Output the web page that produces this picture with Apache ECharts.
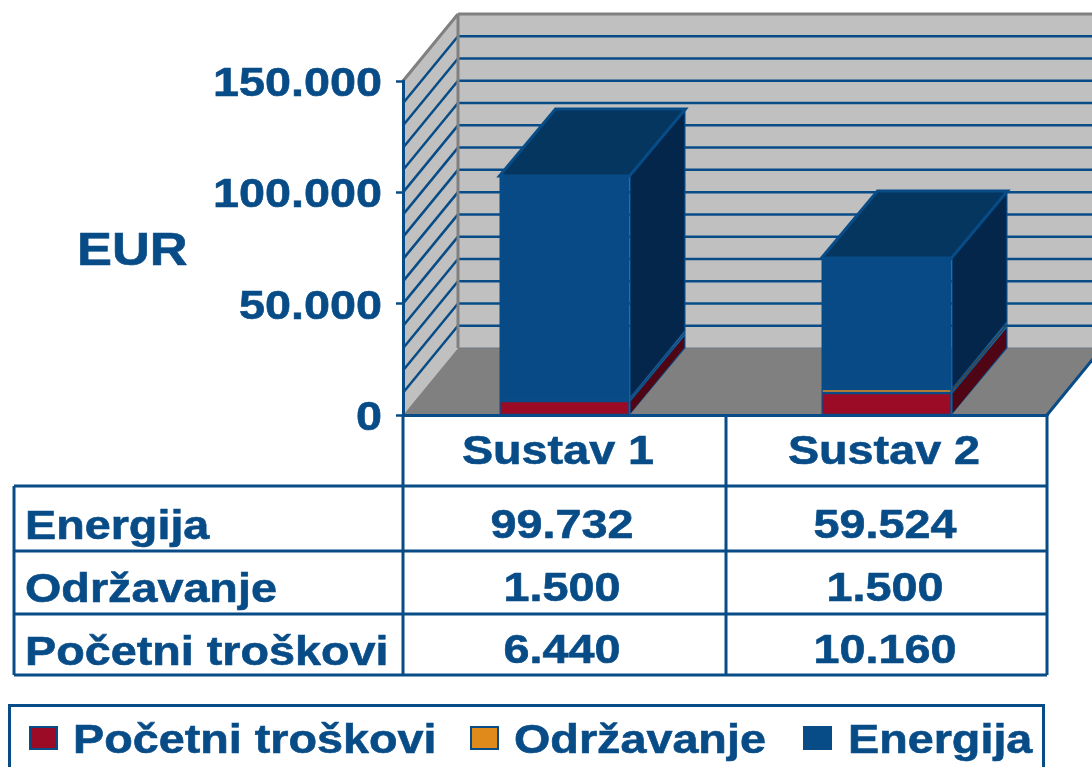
<!DOCTYPE html>
<html>
<head>
<meta charset="utf-8">
<style>html,body{margin:0;padding:0;background:#fff;overflow:hidden}#c{width:1092px;height:767px}</style>
<script src="https://cdn.jsdelivr.net/npm/echarts@6/dist/echarts.min.js"></script>
</head>
<body>
<div id="c"></div>
<script>
const categories = ['Sustav 1', 'Sustav 2'];
const energija = [99732, 59524];
const odrzavanje = [1500, 1500];
const pocetni = [6440, 10160];
const tickValues = [0, 50000, 100000, 150000];
const minorValues = [10000,20000,30000,40000,50000,60000,70000,80000,90000,100000,110000,120000,130000,140000];
const axisTitle = 'EUR';
const nameEnergija = 'Energija', nameOdrz = 'Održavanje', namePoc = 'Početni troškovi';

const NAVY = '#084c87', FONT = '"Liberation Sans", Arial, sans-serif';
const DX = 55, DY = -67, BAR_W = 130, STRETCH = 1.168;
const fmt = v => String(v).replace(/\B(?=(\d{3})+(?!\d))/g, '.');

function txt(text, x, y, size, align, stretch) {
  return { type: 'text', x: x, y: y + size * 0.1, scaleX: stretch || STRETCH, silent: true, z: 20,
    style: { text: text, x: 0, y: 0, align: align || 'center', verticalAlign: 'middle',
      fill: NAVY, stroke: NAVY, lineWidth: 0.6, font: 'bold ' + size + 'px ' + FONT } };
}
function poly(points, fill, stroke, lw) {
  return { type: 'polygon', shape: { points: points },
    style: { fill: fill, stroke: stroke || null, lineWidth: lw || 0, lineJoin: 'miter' } };
}
function seg(x1, y1, x2, y2, color, lw) {
  return { type: 'line', shape: { x1, y1, x2, y2 }, style: { stroke: color, lineWidth: lw, fill: null } };
}

function renderWalls(params, api) {
  const g = params.coordSys, L = g.x, R = g.x + g.width, T = g.y, B = g.y + g.height;
  return { type: 'group', children: [
    poly([[L, T], [L + DX, T + DY], [L + DX, B + DY], [L, B]], '#c0c0c0'),
    poly([[L + DX, T + DY], [R + DX, T + DY], [R + DX, B + DY], [L + DX, B + DY]], '#c0c0c0')
  ] };
}
function renderGrid(params, api) {
  const g = params.coordSys, L = g.x, R = g.x + g.width;
  const y = api.coord([0, api.value(0)])[1];
  return { type: 'group', children: [
    seg(L, y, L + DX, y + DY, NAVY, 2.5),
    seg(L + DX, y + DY, R + DX, y + DY, NAVY, 2.5)
  ] };
}
function renderRoom(params, api) {
  const g = params.coordSys, L = g.x, R = g.x + g.width, T = g.y, B = g.y + g.height;
  return { type: 'group', children: [
    poly([[L, B], [L + DX, B + DY], [R + DX, B + DY], [R, B]], '#808080'),
    seg(L + DX, B + DY, R + DX, B + DY, '#6f7a84', 1),
    seg(L, T, L + DX, T + DY, '#808080', 3),
    seg(L + DX, T + DY, R + DX, T + DY, '#808080', 3),
    seg(L + DX, T + DY, L + DX, B + DY, '#808080', 3),
    seg(R, B, R + DX, B + DY, NAVY, 3)
  ] };
}
function barRenderer(front, side, isTop) {
  return function (params, api) {
    const cat = api.value(0);
    const cx = api.coord([cat, 0])[0] + 0.5;
    const x0 = cx - BAR_W / 2, x1 = cx + BAR_W / 2, dx = DX + 1;
    const yA = Math.round(api.coord([cat, api.value(1)])[1] + 0.2);
    const yB = Math.round(api.coord([cat, api.value(2)])[1] + 0.2);
    const lw = 2.5, kids = [];
    kids.push(poly([[x0, yB], [x1, yB], [x1, yA], [x0, yA]], NAVY));
    kids.push(poly([[x1, yB], [x1 + dx, yB + DY], [x1 + dx, yA + DY], [x1, yA]], NAVY));
    if (yA - yB - lw >= 1) {
      const a = lw / 2;
      kids.push(poly([[x0 + a, yB + a], [x1 - a, yB + a], [x1 - a, yA - a], [x0 + a, yA - a]], front));
      kids.push(poly([[x1 + a, yB + DY * a / dx + a * 1.6], [x1 + dx - a, yB + DY + a * 2.2],
        [x1 + dx - a, yA + DY - a * 0.4], [x1 + a, yA - a * 1.6]], side));
    }
    if (isTop) {
      kids.push(poly([[x0, yB + 1], [x0 + dx, yB + DY + 1], [x1 + dx, yB + DY + 1], [x1, yB + 1]], '#04365f', NAVY, 3));
    }
    return { type: 'group', children: kids };
  };
}
function renderTick(params, api) {
  const v = api.value(0);
  const p = api.coord([0, v]);
  return txt(fmt(v), 382, p[1], 40, 'right');
}

const stackData = (lower, values) => values.map((v, i) => [i, lower[i], lower[i] + v]);
const base1 = pocetni, base2 = pocetni.map((v, i) => v + odrzavanje[i]);

const table = [];
const tl = (a, b, c, d) => table.push({ type: 'line', silent: true, z: 10,
  shape: { x1: a, y1: b, x2: c, y2: d }, style: { stroke: NAVY, lineWidth: 3 } });
[[403, 415, 403, 675], [726, 415, 726, 675], [1047, 415, 1047, 675], [14, 486, 14, 675],
 [14, 486, 1047, 486], [14, 551, 1047, 551], [14, 614, 1047, 614], [14, 675, 1047, 675]]
  .forEach(l => tl(l[0], l[1], l[2], l[3]));
table.push({ type: 'rect', silent: true, z: 10, shape: { x: 9.5, y: 705.5, width: 1034, height: 80 },
  style: { fill: null, stroke: NAVY, lineWidth: 3 } });

categories.forEach((c, i) => table.push(txt(c, [558, 884][i], 449, 40)));
const rows = [[nameEnergija, energija, 524], [nameOdrz, odrzavanje, 587], [namePoc, pocetni, 649.5]];
rows.forEach(r => {
  table.push(txt(r[0], 25, r[2], 40, 'left'));
  r[1].forEach((v, i) => table.push(txt(fmt(v), [562, 885][i], r[2] - 1.5, 40)));
});
table.push(txt(axisTitle, 77, 247.5, 46, 'left', 1.14));

[[namePoc, '#9b0b26', 30, 73], [nameOdrz, '#e08a1b', 471, 514], [nameEnergija, NAVY, 804, 848]].forEach(l => {
  table.push({ type: 'rect', silent: true, z: 10, shape: { x: l[2], y: 727, width: 27, height: 22 },
    style: { fill: l[1], stroke: NAVY, lineWidth: 2 } });
  table.push(txt(l[0], l[3], 737.5, 40, 'left'));
});

const chart = echarts.init(document.getElementById('c'), null, { renderer: 'canvas' });
chart.setOption({
  animation: false,
  backgroundColor: '#fff',
  grid: { left: 403, right: 45, top: 81, bottom: 352, containLabel: false },
  xAxis: { type: 'category', data: categories, z: 6,
    axisLine: { show: true, lineStyle: { color: NAVY, width: 3 } },
    axisTick: { show: false }, axisLabel: { show: false }, splitLine: { show: false } },
  yAxis: { type: 'value', min: 0, max: 150000, interval: 50000, z: 6,
    axisLine: { show: true, onZero: false, lineStyle: { color: NAVY, width: 3 } },
    axisTick: { show: true, length: 7, lineStyle: { color: NAVY, width: 2.5 } },
    axisLabel: { show: false }, splitLine: { show: false } },
  graphic: table,
  series: [
    { type: 'custom', name: 'walls', z: 1, renderItem: renderWalls, data: [[0]], silent: true },
    { type: 'custom', name: 'grid', z: 2, renderItem: renderGrid, data: minorValues.map(v => [v]), silent: true },
    { type: 'custom', name: 'room', z: 3, renderItem: renderRoom, data: [[0]], silent: true },
    { type: 'custom', name: namePoc, z: 4, renderItem: barRenderer('#9b0b26', '#4f0513', false),
      data: stackData([0, 0], pocetni), silent: true },
    { type: 'custom', name: nameOdrz, z: 5, renderItem: barRenderer('#e08a1b', '#6b4210', false),
      data: stackData(base1, odrzavanje), silent: true },
    { type: 'custom', name: nameEnergija, z: 5, renderItem: barRenderer('#074a85', '#03264a', true),
      data: stackData(base2, energija), silent: true },
    { type: 'custom', name: 'ticks', z: 7, renderItem: renderTick, data: tickValues.map(v => [v]), silent: true }
  ]
});
</script>
</body>
</html>
